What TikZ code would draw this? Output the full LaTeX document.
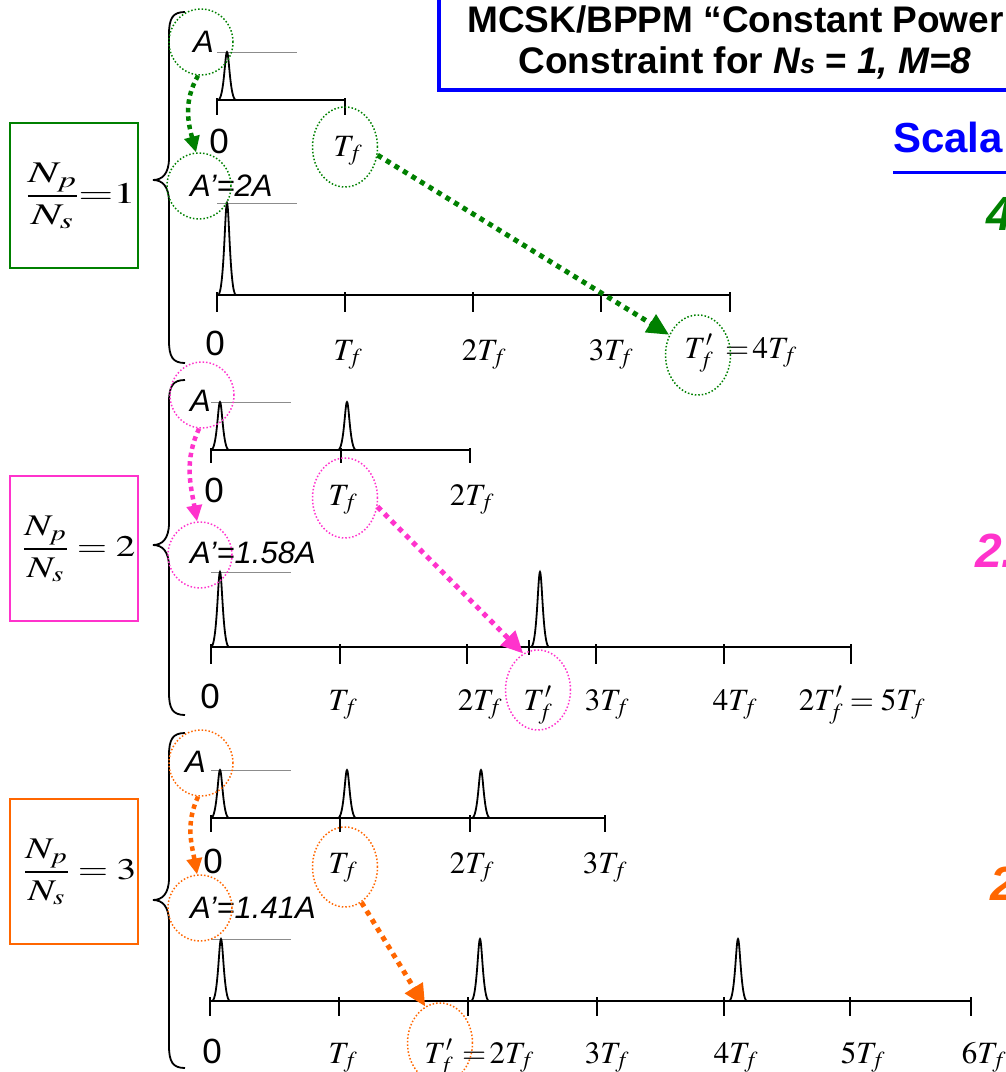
\documentclass[tikz,border=0pt]{standalone}
\usepackage{mathptmx}
\usepackage{fontspec}
\setmainfont{Liberation Serif}
\newfontfamily\arialf{Liberation Sans}
\usepackage{graphicx}
\usetikzlibrary{shapes.geometric,arrows.meta}
\definecolor{pgreen}{RGB}{0,128,0}
\definecolor{ppink}{RGB}{255,51,204}
\definecolor{porange}{RGB}{255,102,0}
\definecolor{pblue}{RGB}{0,0,255}
\newcommand{\pulse}[3]{\draw[pls] (#1-9,#3) .. controls (#1-3,#3) and (#1-2,#2) .. (#1,#2) .. controls (#1+2,#2) and (#1+3,#3) .. (#1+9,#3);}
\newcommand{\brc}[3]{\draw[line width=1.8pt] (185,#1) .. controls (173,#1) and (169,#1+6) .. (169,#1+22) -- (169,#2-22) .. controls (169,#2-6) and (162,#2) .. (153,#2) .. controls (162,#2) and (169,#2+6) .. (169,#2+22) -- (169,#3-22) .. controls (169,#3-6) and (173,#3) .. (185,#3);}
\tikzset{
  ax/.style={line width=2pt},
  tk/.style={line width=2pt},
  refl/.style={draw=black!45, line width=0.8pt},
  pls/.style={line width=1.8pt},
  lbl/.style={anchor=base, inner sep=0pt, font=\fontsize{31}{36}\selectfont},
  zl/.style={anchor=base, inner sep=0pt, font=\arialf\fontsize{35}{40}\selectfont},
  al/.style={anchor=base west, inner sep=0pt, font=\arialf\itshape\fontsize{31}{36}\selectfont},
  circ/.style={ellipse, draw, dash pattern=on 1.5pt off 2pt, line width=1.5pt, inner sep=0pt, minimum width=64pt, minimum height=66pt},
  tcirc/.style={circ, minimum width=65pt, minimum height=80pt},
  arr/.style={line width=5pt, dash pattern=on 5pt off 5pt, -{Triangle[length=22pt,width=20pt]}},
  sarr/.style={line width=4.5pt, dash pattern=on 4.5pt off 4pt, -{Triangle[length=16pt,width=15pt]}},
  fbox/.style={draw, line width=2pt, minimum width=128pt, minimum height=145pt, inner sep=0pt},
  frac/.style={inner sep=0pt, font=\fontsize{30}{36}\selectfont},
  bign/.style={anchor=base west, inner sep=0pt, font=\arialf\bfseries\itshape\fontsize{48}{48}\selectfont},
  ttl/.style={anchor=base, inner sep=0pt, font=\arialf\bfseries\fontsize{37}{42}\selectfont}
}
\begin{document}
\begin{tikzpicture}[x=1pt,y=-1pt]
\useasboundingbox (0,0) rectangle (1006,1072);
\clip (0,0) rectangle (1006,1072);
% title
\draw[pblue, line width=4pt] (439,-10) -- (439,90) -- (1030,90);
\node[ttl, anchor=base west] (t1) at (467,32) {MCSK/BPPM “Constant Power};
\node[ttl] (t2) at (745,73) {Constraint for \textit{N{\fontsize{27}{27}\selectfont s}} = \textit{1, M=8}};
\node[anchor=base west, inner sep=0pt, text=pblue, font=\arialf\bfseries\fontsize{42}{48}\selectfont] (sc) at (893,152) {Scala};
\draw[pblue, line width=3pt] (893,172) -- (1010,172);
\node[bign, text=pgreen] (n1) at (986,230) {4};
\node[bign, text=ppink] (n2) at (975,567) {2.};
\node[bign, text=porange] (n3) at (990,900) {2};
% boxes
\node[fbox, draw=pgreen] (b1) at (73.5,195) {};
\node[frac] (f1) at (81,196) {\scalebox{1.5}[1]{$\displaystyle\frac{N_p}{N_s}{=}1$}};
\node[fbox, draw=ppink] (b2) at (73.5,548) {};
\node[frac] (f2) at (79,549) {\scalebox{1.3}[1]{$\displaystyle\frac{N_p}{N_s}=2$}};
\node[fbox, draw=porange] (b3) at (73.5,871) {};
\node[frac] (f3) at (80,872) {\scalebox{1.3}[1]{$\displaystyle\frac{N_p}{N_s}=3$}};
% braces
\brc{12}{180}{363}
\brc{380}{545}{715}
\brc{733}{900}{1068}
% ---------- panel 1 ----------
\draw[ax] (217,100) -- (345,100);
\foreach \x in {217,345} \draw[tk] (\x,98) -- (\x,115);
\draw[refl] (217,52) -- (297,52);
\pulse{227}{52}{100}
\draw[ax] (217,295) -- (730,295);
\foreach \x in {217,345,473,601,730} \draw[tk] (\x,292) -- (\x,312);
\draw[refl] (217,203) -- (297,203);
\pulse{227}{203}{295}
\node[al] (a1) at (193,52) {A};
\node[circ, draw=pgreen] (cA1) at (201,42) {};
\node[al] (ap1) at (190,196) {A’=2A};
\node[circ, draw=pgreen] (cAp1) at (199,186) {};
\node[zl] (z1a) at (219,153) {0};
\node[lbl] (l1t) at (348,156) {$T_f$};
\node[tcirc, draw=pgreen] (cT1) at (345,147) {};
\node[zl] (z1b) at (215,355) {0};
\node[lbl] (l1a) at (348,360) {$T_f$};
\node[lbl] (l1b) at (484,360) {$2T_f$};
\node[lbl] (l1c) at (611,360) {$3T_f$};
\node[lbl] (l1d) at (699,358) {$T'_f$};
\node[lbl, anchor=base west] (l1e) at (725,358) {${=}\,4T_f$};
\node[tcirc, draw=pgreen] (cTp1) at (698,355) {};
\draw[sarr, pgreen] (cA1.-95) to[out=-120,in=105] (cAp1.95);
\draw[arr, pgreen] (cT1.-14) -- (cTp1.145);
% ---------- panel 2 ----------
\draw[ax] (211,450) -- (470,450);
\foreach \x in {211,341,470} \draw[tk] (\x,448) -- (\x,463);
\draw[refl] (211,402) -- (291,402);
\pulse{220}{402}{450}
\pulse{347}{402}{450}
\draw[ax] (211,647) -- (851,647);
\foreach \x in {211,340,467,596,724,851} \draw[tk] (\x,644) -- (\x,664);
\draw[tk] (529,640) -- (529,655);
\draw[refl] (211,572) -- (291,572);
\pulse{220}{572}{647}
\pulse{540}{572}{647}
\node[al] (a2) at (190,411) {A};
\node[circ, draw=ppink] (cA2) at (202,395) {};
\node[al] (ap2) at (190,563) {A’=1.58A};
\node[circ, draw=ppink] (cAp2) at (200,555) {};
\node[zl] (z2a) at (214,502) {0};
\node[lbl] (l2t) at (343,505) {$T_f$};
\node[tcirc, draw=ppink] (cT2) at (345,498) {};
\node[lbl] (l2u) at (472,505) {$2T_f$};
\node[zl] (z2b) at (210,708) {0};
\node[lbl] (l2a) at (343,710) {$T_f$};
\node[lbl] (l2b) at (480,710) {$2T_f$};
\node[lbl] (l2c) at (538,710) {$T'_f$};
\node[tcirc, draw=ppink] (cTp2) at (538,690) {};
\node[lbl] (l2d) at (607,710) {$3T_f$};
\node[lbl] (l2e) at (735,710) {$4T_f$};
\node[lbl] (l2f) at (862,710) {$2T'_f=5T_f$};
\draw[sarr, ppink] (cA2.-95) to[out=-115,in=100] (cAp2.95);
\draw[arr, ppink] (cT2.-15) -- (cTp2.112);
% ---------- panel 3 ----------
\draw[ax] (211,818) -- (605,818);
\foreach \x in {211,340,470,605} \draw[tk] (\x,815) -- (\x,832);
\draw[refl] (211,770) -- (291,770);
\pulse{220}{770}{818}
\pulse{347}{770}{818}
\pulse{481}{770}{818}
\draw[ax] (210,1001) -- (971,1001);
\foreach \x in {210,339,468,597,724,850,971} \draw[tk] (\x,997) -- (\x,1016);
\draw[refl] (211,939) -- (291,939);
\pulse{221}{939}{1001}
\pulse{480}{939}{1001}
\pulse{738}{939}{1001}
\node[al] (a3) at (185,772) {A};
\node[circ, draw=porange] (cA3) at (201,763) {};
\node[al] (ap3) at (190,918) {A’=1.41A};
\node[circ, draw=porange] (cAp3) at (200,908) {};
\node[zl] (z3a) at (213,873) {0};
\node[lbl] (l3t) at (343,873) {$T_f$};
\node[tcirc, draw=porange] (cT3) at (345,867) {};
\node[lbl] (l3u) at (472,873) {$2T_f$};
\node[lbl] (l3v) at (605,873) {$3T_f$};
\node[zl] (z3b) at (212,1063) {0};
\node[lbl] (l3a) at (343,1063) {$T_f$};
\node[lbl] (l3b) at (439,1063) {$T'_f$};
\node[lbl, anchor=base west] (l3c) at (462,1063) {${=}\,2T_f$};
\node[tcirc, draw=porange] (cTp3) at (440,1043) {};
\node[lbl] (l3d) at (607,1063) {$3T_f$};
\node[lbl] (l3e) at (736,1063) {$4T_f$};
\node[lbl] (l3f) at (863,1063) {$5T_f$};
\node[lbl] (l3g) at (984,1063) {$6T_f$};
\draw[sarr, porange] (cA3.-95) to[out=-115,in=100] (cAp3.95);
\draw[arr, porange] (cT3.-65) -- (cTp3.112);
\end{tikzpicture}
\end{document}
